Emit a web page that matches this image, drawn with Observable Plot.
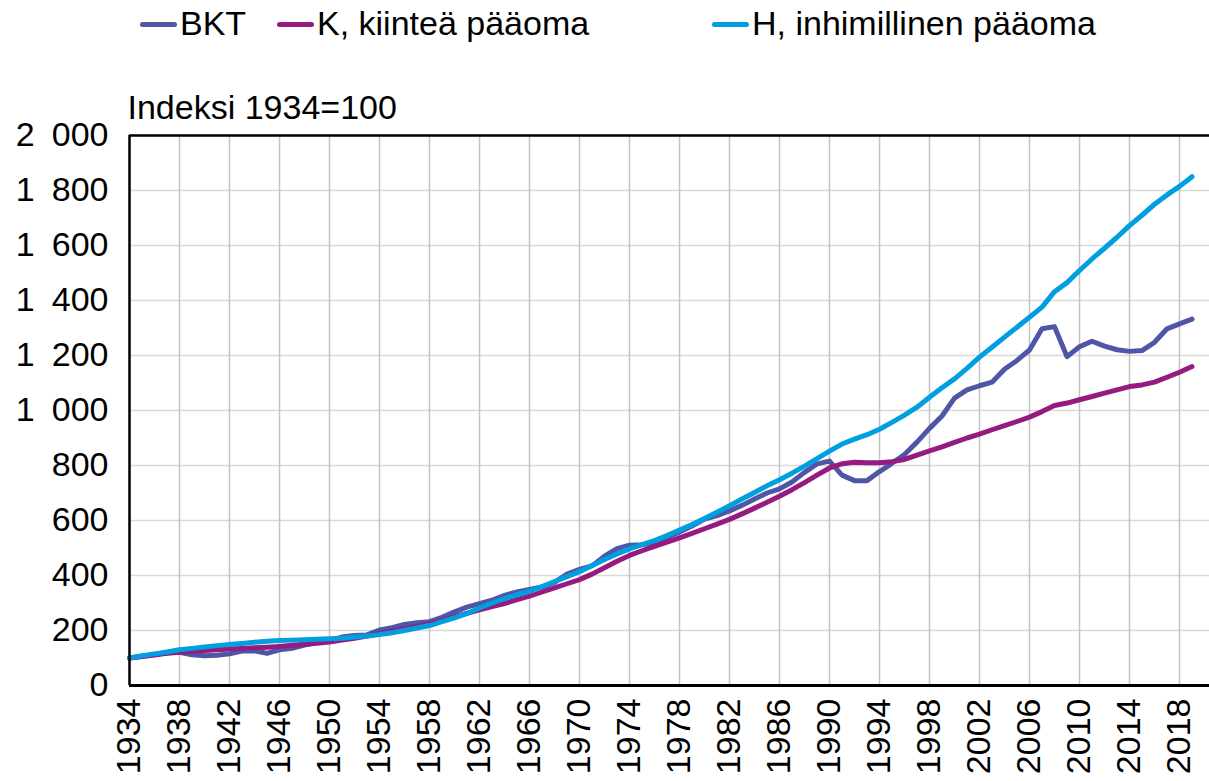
<!DOCTYPE html>
<html>
<head>
<meta charset="utf-8">
<script src="https://cdn.jsdelivr.net/npm/d3@7"></script>
<script src="https://cdn.jsdelivr.net/npm/@observablehq/plot@0.6"></script>
<style>
  html, body { margin: 0; padding: 0; background: #fff; }
  #wrap { position: relative; width: 1209px; height: 781px; font-family: "Liberation Sans", Arial, sans-serif; }
  .leg { position: absolute; top: 3px; font-size: 34px; color: #000; white-space: nowrap; line-height: 40px; }
  .sw { display: inline-block; width: 37px; height: 5px; border-radius: 3px; vertical-align: middle; margin-right: 3px; position: relative; top: -2px; }
  #chart { position: absolute; left: 0; top: 0; }
</style>
</head>
<body>
<div id="wrap">
  <div id="chart"></div>
  <div id="legend"></div>
</div>
<script>
// ---- data ----
const years = d3.range(1934, 2020);
const seriesNames = ["BKT", "K, kiinteä pääoma", "H, inhimillinen pääoma"];
const seriesColors = ["#4f56a6", "#951b81", "#009fe0"];

const bkt = [100,106,113,119,121,112,108,110,115,125,126,117,130,135,147,156,164,176,182,184,
             202,210,222,228,232,248,268,285,298,310,328,340,349,358,375,405,422,435,470,498,
             510,512,518,538,558,580,605,618,635,655,678,700,715,740,775,806,816,765,745,745,
             778,808,840,885,935,980,1045,1075,1090,1103,1150,1182,1220,1297,1305,1196,1232,1252,1234,1221,
             1215,1218,1248,1297,1315,1332];
const kCap = [100,105,111,117,121,124,127,130,133,135,137,139,142,146,150,154,158,165,172,180,
              188,197,206,215,224,236,250,262,275,287,298,312,325,340,355,370,385,405,428,452,
              473,490,506,521,537,553,570,587,604,624,645,666,688,712,738,765,791,806,812,810,
              810,814,822,838,853,868,884,900,914,930,945,960,976,996,1018,1027,1039,1051,1063,1075,
              1087,1093,1103,1121,1139,1160];
const hCap = [100,108,115,122,130,135,140,145,149,153,157,161,164,165,166,168,170,172,176,180,
              185,192,200,209,218,232,246,262,282,300,316,330,343,360,378,396,414,436,458,478,
              497,512,527,545,565,585,607,630,654,678,702,726,748,772,798,825,852,878,896,912,
              932,957,983,1012,1048,1083,1115,1153,1194,1230,1267,1303,1339,1376,1432,1465,1509,1551,1590,1630,
              1672,1710,1750,1784,1815,1850];

const yTicks = d3.range(0, 2001, 200);
const xTicks = d3.range(1934, 2019, 4);
const yLabel = "Indeksi 1934=100";

// ---- build table ----
const seriesValues = [bkt, kCap, hCap];
const data = [];
seriesNames.forEach((name, i) => {
  years.forEach((yr, j) => data.push({series: name, year: yr, value: seriesValues[i][j]}));
});

const locale = d3.formatLocale({decimal: ",", thousands: "\u2002", grouping: [3], currency: ["", "€"]});
const fmt = locale.format(",d");

const chart = Plot.plot({
  width: 1209,
  height: 781,
  marginLeft: 129,
  marginRight: 0,
  marginTop: 135,
  marginBottom: 96,
  style: {fontFamily: "'Liberation Sans', Arial, sans-serif", fontSize: "34px", color: "#000", background: "transparent", overflow: "visible"},
  x: {domain: [1934, 2020.4], ticks: xTicks, tickFormat: d => String(d), tickRotate: -90, tickSize: 0, tickPadding: 13, label: null},
  y: {domain: [0, 2000], ticks: yTicks, tickFormat: fmt, tickSize: 0, tickPadding: 21, label: null},
  color: {domain: seriesNames, range: seriesColors},
  marks: [
    Plot.gridY(yTicks, {stroke: "#d9d9d9", strokeOpacity: 1, strokeWidth: 1.5}),
    Plot.gridX(xTicks, {stroke: "#c4c4c4", strokeOpacity: 1, strokeWidth: 1.5}),
    Plot.lineY(data, {x: "year", y: "value", z: "series", stroke: "series", strokeWidth: 5, strokeLinejoin: "round", strokeLinecap: "round"}),
    Plot.ruleY([yTicks[yTicks.length - 1]], {stroke: "#000", strokeWidth: 2.5}),
    Plot.ruleY([yTicks[0]], {stroke: "#000", strokeWidth: 3}),
    Plot.ruleX([xTicks[0]], {stroke: "#000", strokeWidth: 2.5}),
    Plot.text([yLabel], {frameAnchor: "top-left", textAnchor: "start", lineAnchor: "bottom", dy: -17, dx: -2, fontSize: 34, fill: "#000"})
  ]
});
document.getElementById("chart").appendChild(chart);

// ---- legend ----
const legendLeft = [140, 277, 712];
const legend = document.getElementById("legend");
seriesNames.forEach((name, i) => {
  const item = document.createElement("div");
  item.className = "leg";
  item.style.left = legendLeft[i] + "px";
  const sw = document.createElement("span");
  sw.className = "sw";
  sw.style.background = seriesColors[i];
  item.appendChild(sw);
  item.appendChild(document.createTextNode(name));
  legend.appendChild(item);
});
</script>
</body>
</html>
